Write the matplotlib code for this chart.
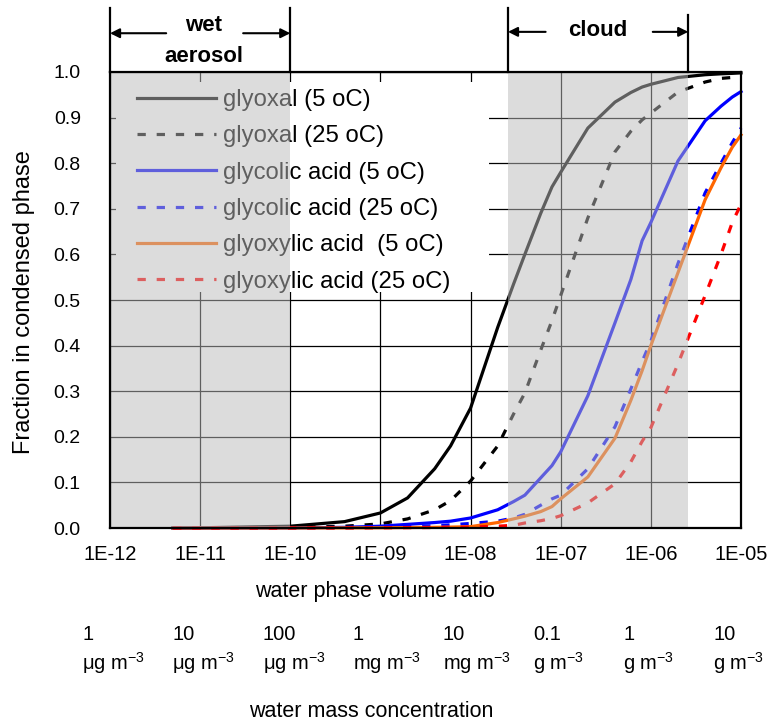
import numpy as np
import matplotlib
matplotlib.use("Agg")
import matplotlib.pyplot as plt
from matplotlib.patches import Rectangle

# water phase volume ratio (x) and fraction in condensed phase for each compound
ratio = [5e-12, 1e-11, 1e-10, 4e-10, 1e-9, 2e-9, 4e-9, 6e-9, 1e-8, 2e-8, 3e-8, 4e-8,
         6e-8, 8e-8, 1e-7, 2e-7, 4e-7, 6e-7, 8e-7, 1e-6, 2e-6, 4e-6, 6e-6, 8e-6, 1e-5]
glyoxal_5 = [0.0002, 0.0005, 0.004, 0.014, 0.033, 0.066, 0.13, 0.18, 0.263, 0.44, 0.535, 0.60,
             0.69, 0.748, 0.78, 0.877, 0.934, 0.955, 0.967, 0.973, 0.988, 0.994, 0.996, 0.997, 0.998]
glyoxal_25 = [0.0001, 0.0001, 0.001, 0.004, 0.009, 0.02, 0.04, 0.06, 0.103, 0.18, 0.25, 0.296,
              0.39, 0.455, 0.51, 0.68, 0.825, 0.87, 0.895, 0.91, 0.956, 0.978, 0.986, 0.988, 0.99]
glycolic_5 = [0.0, 0.0, 0.0003, 0.0015, 0.004, 0.008, 0.012, 0.015, 0.022, 0.04, 0.058, 0.072,
              0.11, 0.137, 0.167, 0.29, 0.45, 0.545, 0.63, 0.67, 0.805, 0.893, 0.925, 0.945, 0.957]
glycolic_25 = [0.0, 0.0, 0.0001, 0.0005, 0.0015, 0.003, 0.005, 0.007, 0.01, 0.015, 0.022, 0.03,
               0.05, 0.064, 0.072, 0.13, 0.222, 0.305, 0.365, 0.41, 0.58, 0.735, 0.80, 0.845, 0.877]
glyoxylic_5 = [0.0, 0.0, 0.0001, 0.0003, 0.0005, 0.001, 0.0015, 0.002, 0.003, 0.012, 0.02, 0.026,
               0.036, 0.047, 0.064, 0.112, 0.197, 0.28, 0.345, 0.40, 0.56, 0.72, 0.79, 0.835, 0.862]
glyoxylic_25 = [0.0, 0.0, 0.0001, 0.0002, 0.0005, 0.0008, 0.001, 0.0015, 0.002, 0.004, 0.006, 0.011,
                0.016, 0.021, 0.027, 0.055, 0.097, 0.145, 0.19, 0.22, 0.36, 0.51, 0.60, 0.67, 0.71]

labels = ["glyoxal (5 oC)", "glyoxal (25 oC)", "glycolic acid (5 oC)",
          "glycolic acid (25 oC)", "glyoxylic acid  (5 oC)", "glyoxylic acid (25 oC)"]

aerosol_range = [1e-12, 1e-10]
cloud_range = [2.6e-8, 2.6e-6]

decades = [1e-12, 1e-11, 1e-10, 1e-9, 1e-8, 1e-7, 1e-6, 1e-5]
decade_labels = ["1E-12", "1E-11", "1E-10", "1E-09", "1E-08", "1E-07", "1E-06", "1E-05"]
mass_numbers = ["1", "10", "100", "1", "10", "0.1", "1", "10"]
mass_units = ["\u03bcg m$^{-3}$", "\u03bcg m$^{-3}$", "\u03bcg m$^{-3}$", "mg m$^{-3}$",
              "mg m$^{-3}$", "g m$^{-3}$", "g m$^{-3}$", "g m$^{-3}$"]

plt.rcParams["font.family"] = ["Liberation Sans", "DejaVu Sans"]
plt.rcParams["mathtext.default"] = "regular"

fig = plt.figure(figsize=(7.73, 7.25), dpi=100)
ax = fig.add_axes([0.1423, 0.2717, 0.8163, 0.629])

dash = (0, (2.6, 3.4))
series = [
    (glyoxal_5, "black", "-"),
    (glyoxal_25, "black", dash),
    (glycolic_5, "#0000ff", "-"),
    (glycolic_25, "#0000ff", dash),
    (glyoxylic_5, "#ff6600", "-"),
    (glyoxylic_25, "#ff0000", dash),
]
for (vals, col, ls), lab in zip(series, labels):
    ax.plot(ratio, vals, color=col, ls=ls, lw=2.3, label=lab, zorder=3, clip_on=False)

ax.set_xscale("log")
ax.set_xlim(1e-12, 1e-5)
ax.set_ylim(0, 1.0)
ax.set_xticks(decades)
ax.set_xticklabels(decade_labels)
ax.minorticks_off()
ax.set_yticks(np.arange(0, 1.01, 0.1))
ax.set_yticklabels(["%.1f" % v for v in np.arange(0, 1.01, 0.1)])
ax.tick_params(length=0)
ax.tick_params(axis="x", pad=12, labelsize=14.5)
ax.tick_params(axis="y", pad=21, labelsize=14)
ax.grid(True, color="black", lw=0.9)

# white box behind the legend hides the grid
ax.add_patch(Rectangle((0.01, 0.518), 0.59, 0.46, transform=ax.transAxes,
                       facecolor="white", edgecolor="none", zorder=4))
leg = ax.legend(loc="upper left", bbox_to_anchor=(0.043, 0.963), frameon=False,
                fontsize=17.2, handlelength=3.3, handletextpad=0.3, labelspacing=0.6,
                borderpad=0, borderaxespad=0)
leg.set_zorder(5)

# translucent shading for wet aerosol and cloud regimes (lies over lines and legend)
for lo, hi in (aerosol_range, cloud_range):
    ax.axvspan(lo, hi, facecolor="#bcbcbc", alpha=0.51, edgecolor="none", zorder=6)

for s in ax.spines.values():
    s.set_linewidth(1.6)
    s.set_zorder(7)

# regime markers above the plot
trans = ax.get_xaxis_transform()
ax.plot([aerosol_range[0]] * 2, [1.0, 1.14], color="black", lw=1.6, transform=trans, clip_on=False)
ax.plot([aerosol_range[1]] * 2, [1.0, 1.14], color="black", lw=1.6, transform=trans, clip_on=False)
ax.plot([cloud_range[0]] * 2, [1.0, 1.14], color="black", lw=1.6, transform=trans, clip_on=False)
ax.plot([cloud_range[1]] * 2, [1.0, 1.125], color="black", lw=1.6, transform=trans, clip_on=False)
arrow = dict(arrowstyle="-|>", color="black", lw=1.5, mutation_scale=14, shrinkA=0, shrinkB=0)
ax.annotate("", xy=(aerosol_range[0], 1.085), xytext=(4.2e-12, 1.085), xycoords=trans,
            textcoords=trans, arrowprops=arrow)
ax.annotate("", xy=(aerosol_range[1], 1.085), xytext=(3.0e-11, 1.085), xycoords=trans,
            textcoords=trans, arrowprops=arrow)
ax.annotate("", xy=(cloud_range[0], 1.088), xytext=(6.8e-8, 1.088), xycoords=trans,
            textcoords=trans, arrowprops=arrow)
ax.annotate("", xy=(cloud_range[1], 1.088), xytext=(1.05e-6, 1.088), xycoords=trans,
            textcoords=trans, arrowprops=arrow)
ax.text(1.1e-11, 1.103, "wet", transform=trans, ha="center", va="center",
        fontsize=16, fontweight="bold")
ax.text(1.1e-11, 1.033, "aerosol", transform=trans, ha="center", va="center",
        fontsize=16, fontweight="bold")
ax.text(2.6e-7, 1.092, "cloud", transform=trans, ha="center", va="center",
        fontsize=16, fontweight="bold")

# axis titles and the water mass concentration scale
fig.text(0.031, 0.583, "Fraction in condensed phase", rotation=90, ha="center",
         va="center", fontsize=17)
fig.text(0.485, 0.184, "water phase volume ratio", ha="center", va="center", fontsize=15.5)
fig.text(0.48, 0.004, "water mass concentration", ha="center", va="bottom", fontsize=15.5)
for xv, num, unit in zip(decades, mass_numbers, mass_units):
    ax.annotate(num, xy=(xv, 0), xycoords=("data", "axes fraction"), xytext=(-20, -77),
                textcoords="offset points", ha="left", va="center", fontsize=14.5,
                annotation_clip=False)
    ax.annotate(unit, xy=(xv, 0), xycoords=("data", "axes fraction"), xytext=(-20, -97),
                textcoords="offset points", ha="left", va="center", fontsize=14.5,
                annotation_clip=False)

fig.savefig("out.png", dpi=100)
